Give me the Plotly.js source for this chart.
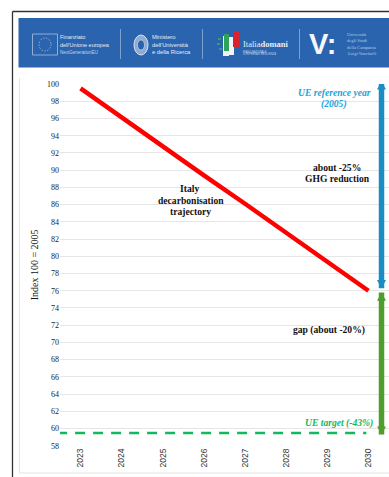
<!DOCTYPE html>
<html>
<head>
<meta charset="utf-8">
<script src="https://cdn.plot.ly/plotly-3.0.0.min.js"></script>
<style>html,body{margin:0;padding:0;background:#fff;overflow:hidden}#c{width:389px;height:477px}</style>
</head>
<body>
<div id="c"></div>
<script>
// Decarbonisation chart data
var years = [2023, 2024, 2025, 2026, 2027, 2028, 2029, 2030];
var trajectory = [99.5, 96.1, 92.8, 89.4, 86.1, 82.7, 79.4, 76];
var referenceX = [2022.78, 2029.93];
var referenceY = [100.2, 100.2];
var targetX = [2022.43, 2029.95];
var targetY = [59.5, 59.5];
var yTicks = [58,60,62,64,66,68,70,72,74,76,78,80,82,84,86,88,90,92,94,96,98,100];

var W = 389, H = 477;
var serif = '"Liberation Serif", serif';
var sans = '"Liberation Sans", sans-serif';
var px = function (x) { return x / W; };
var py = function (y) { return 1 - y / H; };

// Helpers for page furniture placed by pixel position
function box(x0, y0, x1, y1, fill, line, lw) {
  return {type: 'rect', xref: 'paper', yref: 'paper', x0: px(x0), x1: px(x1), y0: py(y0), y1: py(y1),
          fillcolor: fill || 'rgba(0,0,0,0)', line: {color: line || 'rgba(0,0,0,0)', width: lw || 0}, layer: 'below'};
}
function seg(x0, y0, x1, y1, color, lw, layer) {
  return {type: 'line', xref: 'paper', yref: 'paper', x0: px(x0), x1: px(x1), y0: py(y0), y1: py(y1),
          line: {color: color, width: lw}, layer: layer || 'below'};
}
function txt(x, y, text, size, color, font, anchor) {
  return {xref: 'paper', yref: 'paper', x: px(x), y: py(y), text: text, showarrow: false,
          xanchor: anchor || 'left', yanchor: 'middle', align: anchor === 'center' ? 'center' : 'left',
          font: {family: font || sans, size: size, color: color}, borderpad: 0};
}

// Double-headed vertical arrows are anchored to the value axis
function arrowShapes(x, yTop, yBottom, color, headTop, headBottom) {
  var toX = px(x);
  var out = [{type: 'line', xref: 'paper', yref: 'y', x0: toX, x1: toX, y0: yTop, y1: yBottom,
              line: {color: color, width: 5.5}, layer: 'above'}];
  var hw = 4.5 / W, hh = 0.95;
  if (headTop) out.push({type: 'path', xref: 'paper', yref: 'y',
    path: 'M' + (toX - hw) + ',' + (yTop - hh) + 'L' + toX + ',' + yTop + 'L' + (toX + hw) + ',' + (yTop - hh) + 'Z',
    fillcolor: color, line: {width: 0}, layer: 'above'});
  if (headBottom) out.push({type: 'path', xref: 'paper', yref: 'y',
    path: 'M' + (toX - hw) + ',' + (yBottom + hh) + 'L' + toX + ',' + yBottom + 'L' + (toX + hw) + ',' + (yBottom + hh) + 'Z',
    fillcolor: color, line: {width: 0}, layer: 'above'});
  return out;
}

var traces = [
  {x: referenceX, y: referenceY, mode: 'lines', cliponaxis: false, hoverinfo: 'skip',
   line: {color: '#1fb4e8', width: 2.5, dash: '10px,7px'}},
  {x: targetX, y: targetY, mode: 'lines', cliponaxis: false, hoverinfo: 'skip',
   line: {color: '#12b85c', width: 2.5, dash: '10px,8px'}},
  {x: years, y: trajectory, mode: 'lines', cliponaxis: false, hoverinfo: 'skip',
   line: {color: '#ff0000', width: 4.5}}
];

var shapes = [
  // outer frame and inner chart border
  seg(12.5, 11.5, 389, 11.5, '#333333', 1.3),
  seg(12.5, 11.5, 12.5, 477, '#333333', 1.3),
  seg(19.5, 78, 19.5, 473, '#e4e4e4', 1),
  seg(19.5, 473, 389, 473, '#e4e4e4', 1),
  // header band
  box(18.5, 18, 389, 67.5, '#2a63ae'),
  seg(120.5, 29, 120.5, 59, '#7d9fce', 1),
  seg(202.5, 29, 202.5, 59, '#7d9fce', 1),
  seg(299.5, 29, 299.5, 59, '#7d9fce', 1),
  // EU emblem outline
  box(32.5, 34, 57.5, 55, null, '#a9c0e0', 0.8),
  {type: 'circle', xref: 'paper', yref: 'paper', x0: px(39), x1: px(51), y0: py(38), y1: py(51),
   line: {color: '#d7e2f1', width: 0.9, dash: '1px,2px'}, layer: 'below'},
  // ministry seal
  {type: 'circle', xref: 'paper', yref: 'paper', x0: px(134), x1: px(148), y0: py(35), y1: py(55),
   fillcolor: '#8fabd3', line: {color: '#d7e2f1', width: 1}, layer: 'below'},
  {type: 'circle', xref: 'paper', yref: 'paper', x0: px(137.5), x1: px(144.5), y0: py(40), y1: py(50),
   fillcolor: '#2a63ae', line: {color: '#d7e2f1', width: 0.6}, layer: 'below'},
  // Italia Domani emblem
  box(223, 36, 229, 56, '#eef2f7'),
  box(224, 34, 229, 51, '#2fa35a'),
  box(229, 37, 234, 55, '#f2f4f8'),
  box(233, 32, 240, 47, '#d9232e'),
  box(218, 38, 221, 40, '#2fa35a'),
  box(217, 43, 220, 45, '#2fa35a'),
  box(219, 48, 222, 50, '#2fa35a')
].concat(
  arrowShapes(381.5, 100.3, 76.3, '#1a8ec4', true, true),
  arrowShapes(381.5, 75.8, 59.3, '#4f9d2f', true, true)
);

var annotations = [
  txt(59, 37, 'Finanziato', 5.5, '#e6edf6'),
  txt(59, 44.5, "dell'Unione europea", 5.5, '#e6edf6'),
  txt(59, 52.5, 'NextGenerationEU', 4.5, '#c5d4e9'),
  txt(151, 37.5, 'Ministero', 5.8, '#e6edf6'),
  txt(151, 44.5, "dell'Università", 5.8, '#e6edf6'),
  txt(151, 52.5, 'e della Ricerca', 5.8, '#e6edf6'),
  txt(242, 44, 'Italia<b>domani</b>', 8.5, '#e6edf6', serif),
  txt(242, 52, 'PIANO NAZIONALE', 2.6, '#c5d4e9'),
  txt(242, 54.5, 'DI RIPRESA E RESILIENZA', 2.6, '#c5d4e9'),
  txt(322, 44, '<b>V:</b>', 29, '#f4f7fb', sans, 'center'),
  txt(346, 34, 'Università', 4.6, '#b9cbe4', serif),
  txt(346, 40, 'degli Studi', 4.6, '#b9cbe4', serif),
  txt(346, 47, 'della Campania', 4.6, '#b9cbe4', serif),
  txt(346, 53.5, '<i>Luigi Vanvitelli</i>', 4.6, '#b9cbe4', serif),
  // chart labels
  txt(334, 92, '<b><i>UE reference year</i></b>', 9.6, '#1ba3d8', serif, 'center'),
  txt(334, 103.5, '<b><i>(2005)</i></b>', 9.6, '#1ba3d8', serif, 'center'),
  txt(337, 168, '<b>about -25%</b>', 9.6, '#111111', serif, 'center'),
  txt(337, 178.5, '<b>GHG reduction</b>', 9.6, '#111111', serif, 'center'),
  txt(189, 188.5, '<b>Italy</b>', 9.6, '#111111', serif, 'center'),
  txt(190.5, 200.5, '<b>decarbonisation</b>', 9.6, '#111111', serif, 'center'),
  txt(190.5, 211.5, '<b>trajectory</b>', 9.6, '#111111', serif, 'center'),
  txt(329, 330, '<b>gap (about -20%)</b>', 9.6, '#111111', serif, 'center'),
  txt(339, 423, '<b><i>UE target (-43%)</i></b>', 9.6, '#12b85c', serif, 'center')
];

var layout = {
  width: W, height: H,
  margin: {l: 0, r: 0, t: 0, b: 0, pad: 0},
  paper_bgcolor: '#ffffff', plot_bgcolor: '#ffffff',
  showlegend: false,
  font: {family: serif, size: 8, color: '#222222'},
  xaxis: {
    domain: [60 / W, 1], range: [2022.5, 2030.5], automargin: false,
    tickmode: 'array', tickvals: years, ticktext: years.map(String), tickangle: -90,
    tickfont: {family: sans, size: 8.5, color: '#333333'},
    ticks: '', showgrid: false, zeroline: false, showline: false
  },
  yaxis: {
    domain: [1 - 445.8 / H, 1 - 84 / H], range: [58, 100], automargin: false,
    tickmode: 'array', tickvals: yTicks, ticks: '',
    tickfont: {family: serif, size: 8, color: '#222222'},
    showgrid: true, gridcolor: '#e6e6e6', gridwidth: 1, zeroline: false, showline: false,
    title: {text: 'Index 100 = 2005', font: {family: serif, size: 10, color: '#111111'}, standoff: 6}
  },
  shapes: shapes,
  annotations: annotations
};

Plotly.newPlot('c', traces, layout, {displayModeBar: false, staticPlot: true});
</script>
</body>
</html>
